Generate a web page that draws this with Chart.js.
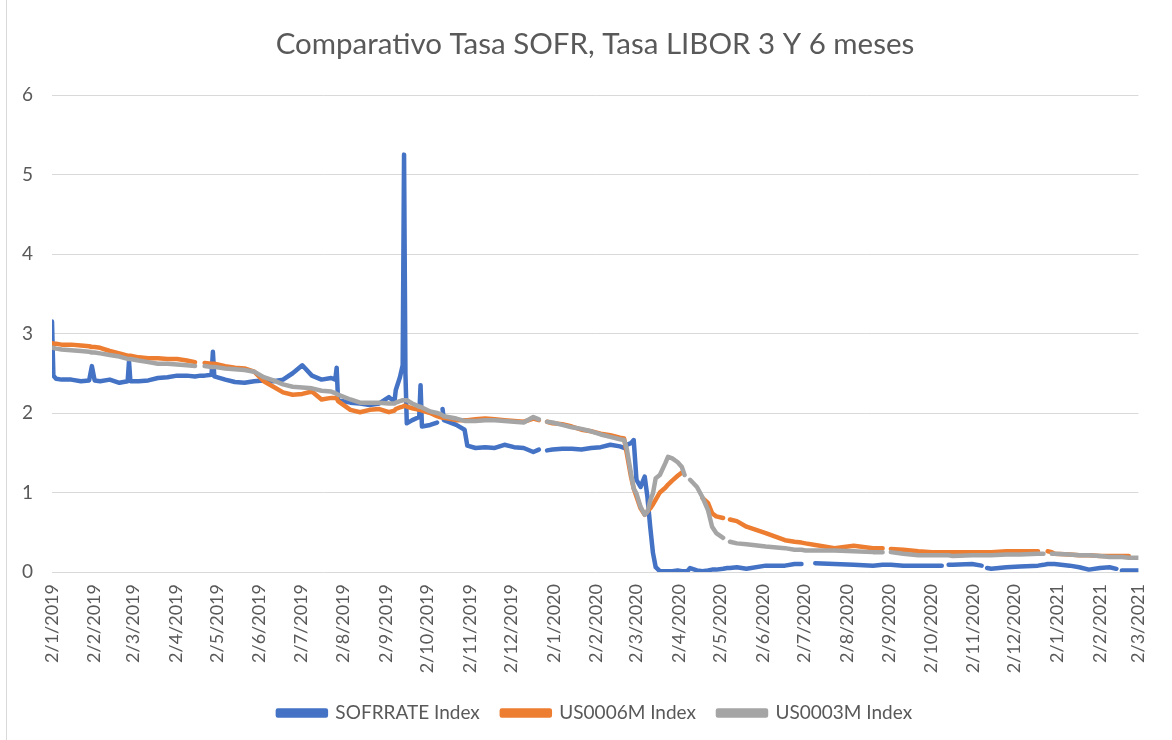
<!DOCTYPE html>
<html>
<head>
<meta charset="utf-8">
<script src="https://cdn.jsdelivr.net/npm/chart.js@4.4.1/dist/chart.umd.min.js"></script>
<style>
  html, body { margin: 0; padding: 0; background: #ffffff; }
  #wrap { width: 1172px; height: 740px; }
</style>
</head>
<body>
<div id="wrap"><canvas id="c" width="1172" height="740"></canvas></div>
<script>
// x positions: days since 2 Jan 2019 (dd/mm/yyyy axis labels below)
const dayNum = [0,1,3,7,14,21,27,29,31,35,42,49,55,56,57,63,70,77,84,91,98,104,108,111,116,117,118,126,133,140,147,154,161,168,175,182,189,196,203,206,207,208,217,224,231,238,245,249,250,253,255,256,257,258,262,267,268,269,275,280,282,284,285,294,300,302,308,315,322,329,336,343,350,354,357,360,364,371,378,385,392,399,406,413,416,418,421,423,425,428,431,433,435,437,439,442,446,448,451,455,458,460,462,464,469,473,477,480,483,488,491,493,498,505,519,533,540,545,548,555,569,583,597,604,607,610,619,630,640,647,649,652,655,669,676,678,680,683,694,704,717,721,724,727,729,740,747,754,762,769,774,776,778,783,790];

const sofr = [3.15,2.47,2.43,2.42,2.42,2.40,2.41,2.59,2.41,2.40,2.42,2.38,2.40,2.65,2.40,2.40,2.41,2.44,2.45,2.47,2.47,2.46,2.47,2.47,2.48,2.77,2.46,2.42,2.39,2.38,2.40,2.41,2.40,2.42,2.50,2.60,2.47,2.42,2.44,2.42,2.57,2.16,2.13,2.12,2.10,2.12,2.20,2.14,2.29,2.45,2.60,5.25,2.50,1.87,1.91,1.95,2.35,1.83,1.85,1.88,null,2.05,1.91,1.85,1.79,1.59,1.56,1.57,1.56,1.60,1.57,1.56,1.51,1.54,null,1.53,1.54,1.55,1.55,1.54,1.56,1.57,1.60,1.58,1.56,1.60,1.62,1.66,1.16,1.07,1.20,0.94,0.57,0.24,0.06,0.01,0.01,0.01,0.01,0.02,0.01,0.01,0.01,0.05,0.02,0.01,0.02,0.03,0.03,0.04,0.05,0.05,0.06,0.04,0.08,0.08,0.10,0.10,null,0.11,0.10,0.09,0.08,0.09,0.09,0.09,0.08,0.08,0.08,0.08,null,0.09,0.09,0.10,0.08,null,0.05,0.04,0.06,0.07,0.08,0.09,0.10,0.10,0.10,0.08,0.06,0.03,0.05,0.06,0.04,null,0.02,0.02,0.02];

const us6m = [2.88,2.87,2.87,2.86,2.86,2.85,2.84,2.83,2.83,2.82,2.78,2.75,2.72,2.72,2.72,2.70,2.69,2.69,2.68,2.68,2.66,2.64,null,2.63,2.62,2.62,2.62,2.59,2.57,2.56,2.52,2.40,2.33,2.26,2.23,2.24,2.27,2.17,2.19,2.19,2.19,2.15,2.04,2.01,2.04,2.05,2.01,2.03,2.05,2.07,2.08,2.09,2.09,2.08,2.06,2.04,2.04,2.03,2.00,1.96,1.95,1.94,1.94,1.91,1.91,1.91,1.92,1.93,1.92,1.91,1.90,1.89,1.93,1.91,null,1.89,1.87,1.86,1.83,1.79,1.77,1.74,1.72,1.69,1.68,1.49,1.20,1.05,0.95,0.80,0.72,0.76,0.80,0.85,0.91,1.00,1.06,1.10,1.15,1.21,1.25,null,null,null,null,0.93,0.87,0.74,0.70,0.68,null,0.66,0.64,0.57,0.49,0.40,0.38,0.37,0.36,0.34,0.30,0.33,0.30,0.30,null,0.29,0.28,0.26,0.25,0.25,0.25,0.25,0.25,0.25,0.25,0.25,0.25,0.25,0.26,0.26,0.26,null,0.26,0.25,0.23,0.22,0.21,0.21,0.20,0.20,0.20,0.20,0.20,0.20];

const us3m = [2.82,2.82,2.81,2.80,2.79,2.78,2.77,2.76,2.76,2.75,2.73,2.71,2.68,2.68,2.68,2.66,2.64,2.62,2.62,2.61,2.60,2.59,null,2.59,2.58,2.58,2.58,2.56,2.55,2.54,2.52,2.45,2.41,2.36,2.33,2.32,2.31,2.28,2.27,2.25,2.24,2.23,2.17,2.13,2.13,2.13,2.12,2.12,2.13,2.15,2.16,2.16,2.16,2.16,2.12,2.08,2.08,2.07,2.02,2.00,1.99,1.97,1.96,1.93,1.90,1.90,1.90,1.91,1.91,1.90,1.89,1.88,1.95,1.92,null,1.89,1.88,1.85,1.82,1.80,1.77,1.73,1.70,1.67,1.66,1.55,1.24,1.05,0.99,0.82,0.72,0.76,0.90,0.99,1.18,1.22,1.37,1.45,1.43,1.38,1.32,1.22,null,1.16,1.07,0.94,0.78,0.57,0.49,0.43,null,0.38,0.36,0.35,0.32,0.30,0.28,0.28,0.27,0.27,0.27,0.26,0.25,0.25,null,0.25,0.23,0.21,0.21,0.21,0.21,0.21,0.20,0.21,0.21,0.21,0.21,0.21,0.22,0.22,0.23,0.23,null,0.23,0.23,0.22,0.21,0.21,0.20,0.19,0.19,0.19,0.19,0.18,0.18];

const tickLabels = ['2/1/2019','2/2/2019','2/3/2019','2/4/2019','2/5/2019','2/6/2019','2/7/2019','2/8/2019','2/9/2019','2/10/2019','2/11/2019','2/12/2019','2/1/2020','2/2/2020','2/3/2020','2/4/2020','2/5/2020','2/6/2020','2/7/2020','2/8/2020','2/9/2020','2/10/2020','2/11/2020','2/12/2020','2/1/2021','2/2/2021','2/3/2021'];

const seriesNames = ['SOFRRATE Index', 'US0006M Index', 'US0003M Index'];
const seriesColors = ['#4472C4', '#ED7D31', '#A5A5A5'];

const base = Date.UTC(2019, 0, 2);
function toDay(s) {
  const [d, m, y] = s.split('/').map(Number);
  return Math.round((Date.UTC(y, m - 1, d) - base) / 86400000);
}
const tickDays = tickLabels.map(toDay);
const labelByDay = {};
tickDays.forEach((v, i) => { labelByDay[v] = tickLabels[i]; });

function pts(vals) { return dayNum.map((d, i) => ({ x: d, y: vals[i] })); }

const TXT = '#595959';
const FONT = 'Lato';

const borderPlugin = {
  id: 'chartBorder',
  beforeDraw(chart) {
    const ctx = chart.ctx;
    ctx.save();
    ctx.fillStyle = '#ffffff';
    ctx.fillRect(0, 0, chart.width, chart.height);
    ctx.strokeStyle = '#d9d9d9';
    ctx.lineWidth = 1;
    ctx.beginPath();
    ctx.moveTo(6.5, 0);
    ctx.lineTo(6.5, chart.height);
    ctx.stroke();
    ctx.restore();
  }
};

// centre title and legend over the region right of the y labels (as in the reference)
const shiftPlugin = {
  id: 'shiftBlocks',
  afterLayout(chart) {
    const dx = 29;
    [chart.titleBlock, chart.legend].forEach(b => {
      if (b) { b.left += dx; b.width -= dx; }
    });
  }
};

const allSeries = [sofr, us6m, us3m];
const datasets = allSeries.map((vals, i) => ({
  label: seriesNames[i],
  data: pts(vals),
  borderColor: seriesColors[i],
  backgroundColor: seriesColors[i],
  borderWidth: 4.5,
  borderCapStyle: 'round',
  borderJoinStyle: 'round',
  pointRadius: 0,
  pointHoverRadius: 0,
  tension: 0,
  spanGaps: false,
  order: 3 - i
}));

new Chart(document.getElementById('c'), {
  type: 'line',
  data: { datasets },
  plugins: [borderPlugin, shiftPlugin],
  options: {
    responsive: false,
    animation: false,
    devicePixelRatio: 1,
    layout: { padding: { left: 0, right: 11, top: 0, bottom: 7.5 } },
    plugins: {
      title: {
        display: true,
        text: 'Comparativo Tasa SOFR, Tasa LIBOR 3 Y 6 meses',
        color: TXT,
        font: { family: FONT, size: 29.5, weight: 'normal' },
        padding: { top: 27, bottom: 32.6 }
      },
      legend: {
        display: true,
        position: 'bottom',
        labels: {
          color: TXT,
          font: { family: FONT, size: 19 },
          boxWidth: 48,
          boxHeight: 5,
          padding: 22,
          sort: (a, b) => a.datasetIndex - b.datasetIndex
        }
      },
      tooltip: { enabled: false }
    },
    scales: {
      x: {
        type: 'linear',
        min: 0,
        max: 790,
        offset: false,
        grid: { display: false, drawTicks: false },
        border: { display: false },
        afterBuildTicks(scale) { scale.ticks = tickDays.map(v => ({ value: v })); },
        afterFit(scale) { scale.height = 109.5; },
        ticks: {
          autoSkip: false,
          maxRotation: 90,
          minRotation: 90,
          padding: 12,
          color: TXT,
          font: { family: FONT, size: 18 },
          callback: (v) => labelByDay[v] || ''
        }
      },
      y: {
        min: 0,
        max: 6,
        grid: { color: '#d9d9d9', lineWidth: 1, drawTicks: false },
        border: { display: false },
        afterFit(scale) { scale.width = 52; },
        ticks: {
          stepSize: 1,
          padding: 19,
          color: TXT,
          font: { family: FONT, size: 19 }
        }
      }
    }
  }
});
</script>
</body>
</html>
